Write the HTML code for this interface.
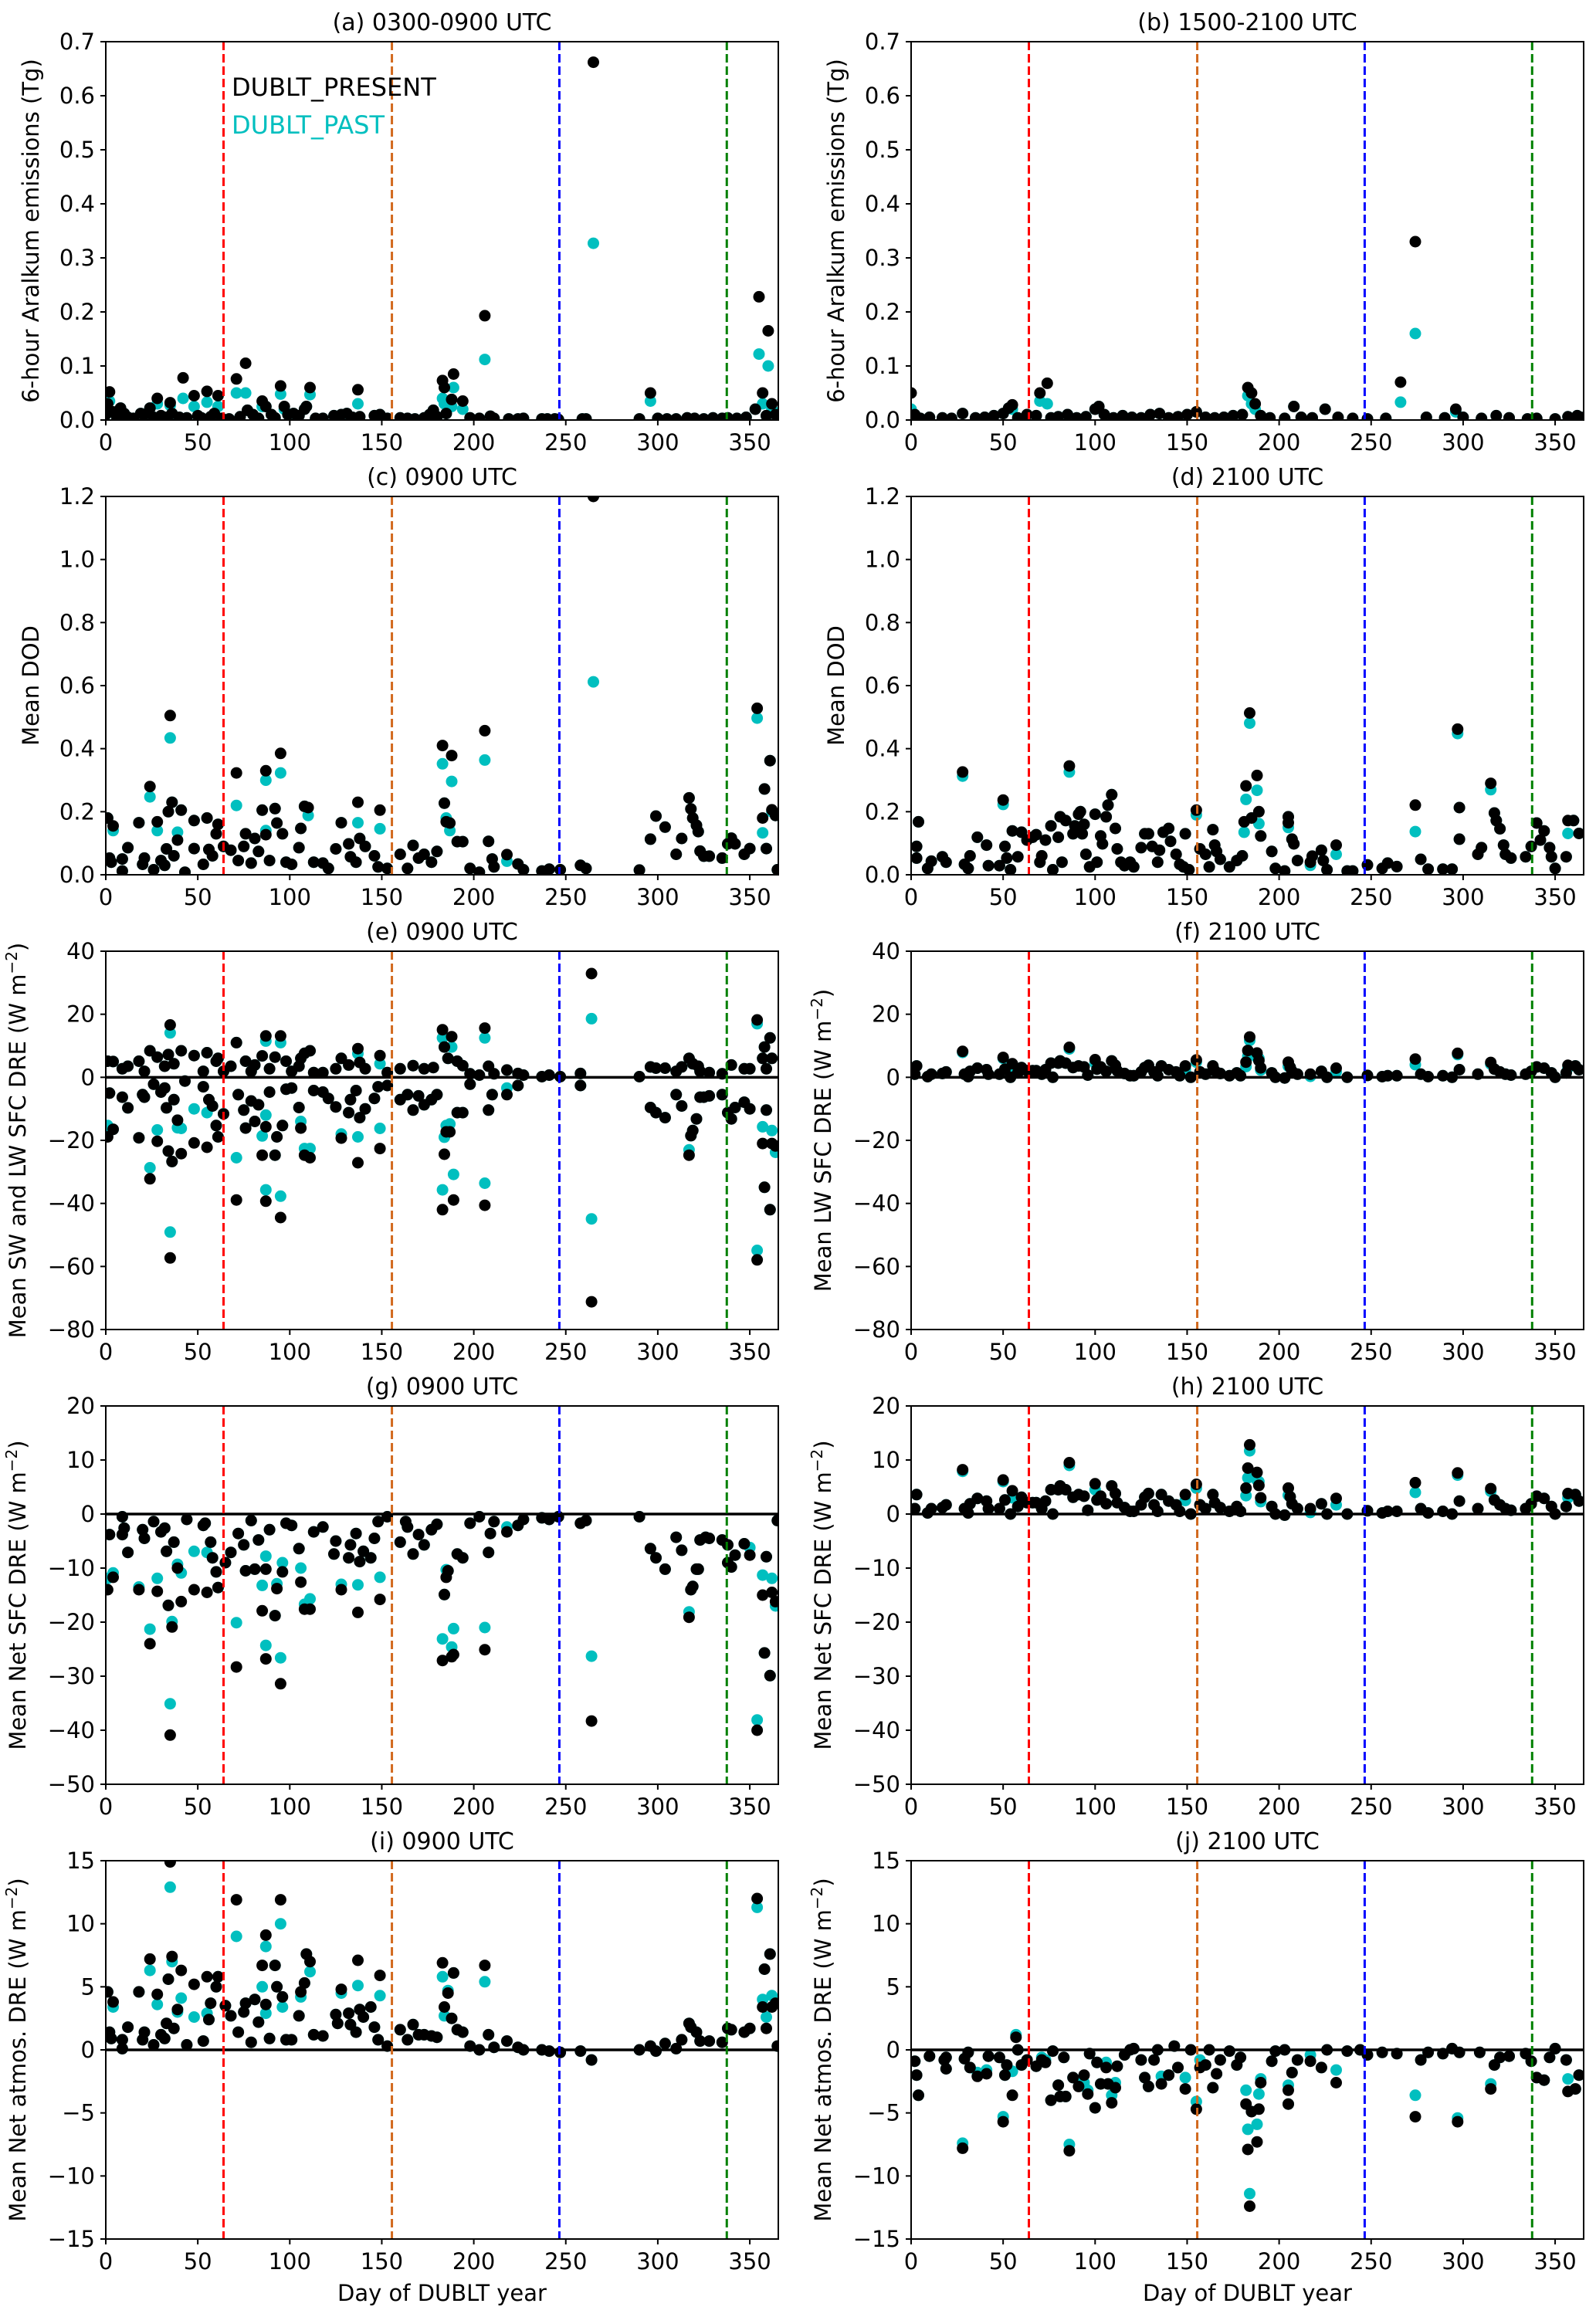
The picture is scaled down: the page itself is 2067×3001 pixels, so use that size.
<!DOCTYPE html>
<html><head><meta charset="utf-8"><title>DUBLT scatter panels</title>
<style>
html,body{margin:0;padding:0;background:#fff;}
svg{display:block;font-family:"DejaVu Sans","Liberation Sans",sans-serif;}
</style></head>
<body>
<svg id="fig" xmlns="http://www.w3.org/2000/svg" width="2067" height="3001" viewBox="0 0 2067 3001">
<rect x="0" y="0" width="2067" height="3001" fill="#fff"/>
</svg>
<script>
// ---------- shared axis data ----------
const xTicks = [0,50,100,150,200,250,300,350];
const seasonBounds = [64,155.5,246.5,337.5];
const seasonColors = ['#ff0000','#d2691e','#0000ff','#008000'];

// ---------- (a) emissions 0300-0900 ----------
const aDays = [0,1,2,4,6,8,10,12,15,19,21,24,26,28,30,33,35,36,40,42,44,48,50,52,55,57,59,61,63,67,71,73,76,77,80,83,85,87,90,92,95,97,99,102,105,108,109,111,114,118,124,128,131,134,137,138,146,149,153,160,164,168,173,176,178,180,183,184,185,188,189,194,198,203,206,209,211,219,224,227,237,240,244,246,259,261,265,290,296,300,305,310,316,320,325,330,335,338,343,348,353,355,357,359,360,362,364];
const aPresent = [0.01,0.03,0.052,0.015,0.005,0.022,0.012,0.005,0.003,0.012,
0.01,0.022,0.005,0.04,0.008,0.005,0.032,0.012,0.005,0.078,
0.004,0.045,0.008,0.004,0.053,0.006,0.012,0.045,0.003,0.002,
0.076,0.006,0.105,0.018,0.01,0.003,0.035,0.025,0.01,0.004,
0.063,0.025,0.01,0.012,0.008,0.02,0.025,0.06,0.003,0.003,
0.008,0.01,0.012,0.005,0.056,0.006,0.008,0.01,0.003,0.004,
0.003,0.002,0.004,0.01,0.018,0.006,0.073,0.06,0.012,0.038,
0.085,0.035,0.004,0.003,0.193,0.007,0.003,0.002,0.002,0.003,
0.002,0.002,0.002,0.001,0.002,0.002,0.662,0.002,0.05,0.003,
0.002,0.002,0.004,0.003,0.002,0.004,0.003,0.004,0.003,0.005,
0.02,0.228,0.05,0.008,0.165,0.03,0.01];
const aPast = [0.01,0.03,0.035,0.015,0.005,0.022,0.012,0.005,0.003,0.012,
0.01,0.022,0.005,0.03,0.008,0.005,0.027,0.012,0.005,0.04,
0.004,0.025,0.008,0.004,0.033,0.006,0.012,0.025,0.003,0.002,
0.05,0.006,0.05,0.018,0.01,0.003,0.025,0.025,0.01,0.004,
0.048,0.02,0.01,0.012,0.008,0.02,0.025,0.047,0.003,0.003,
0.008,0.01,0.012,0.005,0.03,0.006,0.008,0.01,0.003,0.004,
0.003,0.002,0.004,0.01,0.018,0.006,0.04,0.03,0.012,0.025,
0.06,0.02,0.004,0.003,0.112,0.007,0.003,0.002,0.002,0.003,
0.002,0.002,0.002,0.001,0.002,0.002,0.327,0.002,0.035,0.003,
0.002,0.002,0.004,0.003,0.002,0.004,0.003,0.004,0.003,0.005,
0.02,0.122,0.03,0.008,0.1,0.02,0.01];

// ---------- (b) emissions 1500-2100 ----------
const bDays = [0,2,5,10,17,22,28,35,40,45,50,53,55,58,63,68,70,74,76,80,85,90,95,100,102,105,110,115,120,125,130,135,140,145,150,155,160,165,170,175,180,183,185,187,190,195,203,208,212,218,225,232,240,248,258,266,274,280,290,296,300,310,318,325,335,340,350,357,362,364];
const bPresent = [0.05,0.01,0.003,0.005,0.004,0.003,0.012,0.004,0.005,0.008,
0.012,0.022,0.028,0.004,0.01,0.008,0.05,0.068,0.004,0.006,
0.01,0.004,0.006,0.02,0.025,0.01,0.004,0.008,0.005,0.004,
0.01,0.012,0.004,0.006,0.01,0.015,0.005,0.004,0.005,0.008,
0.01,0.06,0.05,0.03,0.008,0.004,0.003,0.025,0.005,0.004,
0.02,0.005,0.003,0.002,0.003,0.07,0.33,0.005,0.004,0.02,
0.005,0.003,0.008,0.004,0.002,0.003,0.002,0.006,0.008,0.005];
const bPast = [0.02,0.01,0.003,0.005,0.004,0.003,0.012,0.004,0.005,0.008,
0.012,0.022,0.02,0.004,0.01,0.008,0.035,0.03,0.004,0.006,
0.01,0.004,0.006,0.02,0.025,0.01,0.004,0.008,0.005,0.004,
0.01,0.012,0.004,0.006,0.01,0.015,0.005,0.004,0.005,0.008,
0.01,0.045,0.03,0.02,0.008,0.004,0.003,0.025,0.005,0.004,
0.02,0.005,0.003,0.002,0.003,0.033,0.16,0.005,0.004,0.015,
0.005,0.003,0.008,0.004,0.002,0.003,0.002,0.006,0.008,0.005];

// ---------- (c) DOD 0900 ----------
const cDays = [1,4,2,3,9,9,12,18,20,21,24,26,28,30,32,33,34,35,36,37,39,41,43,48,48,53,55,56,58,60,61,64,68,71,72,75,76,79,81,83,85,87,87,89,92,93,95,96,98,101,105,106,108,110,113,118,121,125,128,132,133,136,137,138,141,146,148,149,153,160,164,167,170,173,177,180,183,184,185,187,188,191,194,198,203,206,208,210,211,218,224,227,237,241,247,258,261,265,290,296,299,304,310,313,317,318,319,321,322,323,325,328,335,338,340,342,347,350,354,357,358,359,361,362,364,365];
const cPresent = [0.18,0.155,0.053,0.04,0.05,0.012,0.086,0.165,0.033,0.053,
0.28,0.016,0.168,0.045,0.03,0.082,0.2,0.505,0.23,0.06,
0.11,0.205,0.008,0.172,0.083,0.033,0.18,0.08,0.06,0.13,
0.16,0.09,0.078,0.323,0.045,0.09,0.13,0.037,0.115,0.074,
0.205,0.33,0.127,0.045,0.21,0.164,0.385,0.13,0.04,0.033,
0.086,0.147,0.217,0.213,0.04,0.037,0.02,0.082,0.165,0.098,
0.057,0.04,0.23,0.115,0.09,0.06,0.025,0.205,0.02,0.065,
0.02,0.093,0.053,0.065,0.04,0.074,0.41,0.227,0.168,0.164,
0.378,0.105,0.105,0.02,0.008,0.457,0.106,0.05,0.025,0.064,
0.034,0.016,0.012,0.018,0.016,0.03,0.02,1.2,0.015,0.113,
0.186,0.151,0.065,0.115,0.244,0.209,0.18,0.157,0.137,0.075,
0.059,0.059,0.053,0.098,0.116,0.098,0.065,0.083,0.528,0.18,
0.272,0.083,0.362,0.206,0.188,0.016];
const cPast = [0.18,0.14,0.053,0.04,0.05,0.012,0.086,0.165,0.033,0.053,
0.247,0.016,0.14,0.045,0.03,0.082,0.2,0.434,0.23,0.06,
0.135,0.205,0.008,0.172,0.083,0.033,0.18,0.08,0.06,0.13,
0.16,0.09,0.078,0.22,0.045,0.09,0.13,0.037,0.115,0.074,
0.205,0.3,0.14,0.045,0.21,0.164,0.323,0.13,0.04,0.033,
0.086,0.147,0.217,0.188,0.04,0.037,0.02,0.082,0.165,0.098,
0.057,0.04,0.165,0.115,0.09,0.06,0.025,0.146,0.02,0.065,
0.02,0.093,0.053,0.065,0.04,0.074,0.352,0.227,0.18,0.14,
0.296,0.105,0.105,0.02,0.008,0.364,0.106,0.05,0.025,0.043,
0.034,0.016,0.012,0.018,0.016,0.03,0.02,0.612,0.015,0.113,
0.186,0.151,0.065,0.115,0.244,0.209,0.18,0.157,0.137,0.075,
0.059,0.059,0.053,0.098,0.116,0.098,0.065,0.083,0.497,0.133,
0.272,0.083,0.362,0.2,0.188,0.016];

// ---------- (d) DOD 2100 ----------
const dDays = [3,3,4,9,11,17,19,28,29,31,
32,36,41,42,48,50,51,52,54,55,
58,60,63,66,68,70,71,73,76,77,
80,81,82,84,86,88,89,91,92,93,
94,95,97,100,101,103,104,106,107,109,
111,112,114,116,119,121,125,127,129,131,
134,135,137,140,141,144,146,148,149,151,
155,157,160,162,164,165,166,168,173,177,
180,182,181,184,185,188,189,190,196,198,
203,205,205,207,208,210,217,218,223,224,
226,231,237,240,248,256,259,264,274,277,
281,289,294,297,298,298,308,310,315,317,
318,320,322,323,326,334,337,340,342,344,
347,348,350,356,357,360,363];
const dPresent = [0.053,0.09,0.168,0.02,0.043,0.057,0.04,0.326,0.033,0.02,
0.06,0.119,0.094,0.029,0.029,0.237,0.09,0.053,0.016,0.139,
0.057,0.135,0.11,0.119,0.127,0.04,0.06,0.11,0.155,0.016,
0.119,0.184,0.04,0.172,0.345,0.13,0.155,0.192,0.2,0.13,
0.16,0.065,0.025,0.192,0.04,0.123,0.098,0.184,0.221,0.254,
0.147,0.082,0.04,0.029,0.04,0.025,0.086,0.13,0.13,0.09,
0.04,0.078,0.135,0.147,0.106,0.065,0.033,0.025,0.13,0.016,
0.205,0.082,0.065,0.025,0.143,0.094,0.074,0.049,0.025,0.045,
0.06,0.282,0.168,0.513,0.18,0.315,0.2,0.123,0.074,0.02,
0.012,0.184,0.165,0.113,0.098,0.045,0.04,0.059,0.078,0.045,
0.016,0.094,0.012,0.012,0.031,0.02,0.037,0.026,0.221,0.049,
0.018,0.018,0.018,0.462,0.113,0.213,0.065,0.086,0.29,0.196,
0.172,0.146,0.094,0.065,0.053,0.057,0.09,0.164,0.11,0.139,
0.086,0.057,0.02,0.057,0.172,0.172,0.131];
const dPast = [0.053,0.09,0.168,0.02,0.043,0.057,0.04,0.313,0.033,0.02,
0.06,0.119,0.094,0.029,0.029,0.223,0.09,0.053,0.016,0.139,
0.057,0.135,0.11,0.119,0.127,0.04,0.06,0.11,0.155,0.016,
0.119,0.184,0.04,0.172,0.326,0.13,0.155,0.192,0.2,0.13,
0.16,0.065,0.025,0.192,0.04,0.123,0.098,0.184,0.221,0.254,
0.147,0.082,0.04,0.029,0.04,0.025,0.086,0.13,0.13,0.09,
0.04,0.078,0.135,0.147,0.106,0.065,0.033,0.025,0.13,0.016,
0.19,0.082,0.065,0.025,0.143,0.094,0.074,0.049,0.025,0.045,
0.06,0.239,0.135,0.481,0.18,0.268,0.162,0.123,0.074,0.02,
0.012,0.184,0.15,0.113,0.098,0.045,0.03,0.059,0.078,0.045,
0.016,0.065,0.012,0.012,0.031,0.02,0.037,0.026,0.137,0.049,
0.018,0.018,0.018,0.448,0.113,0.213,0.065,0.086,0.27,0.196,
0.172,0.146,0.094,0.065,0.053,0.057,0.09,0.164,0.11,0.139,
0.086,0.057,0.02,0.057,0.131,0.172,0.131];

// ---------- (e) SW and LW SFC DRE 0900 ----------
const eDays = [1,4,9,12,18,21,24,28,32,34,
35,37,41,43,48,55,53,60,61,64,
71,68,76,79,81,85,87,89,92,95,
98,101,105,106,108,111,113,118,125,128,
132,137,138,141,149,153,160,167,173,178,
183,184,186,188,191,194,198,203,206,208,
211,218,224,227,237,241,247,258,264,290,
296,299,304,310,313,317,319,322,323,328,
335,340,347,350,354,358,359,361,357,362,
1,4,2,9,12,18,20,21,24,26,
28,30,32,33,34,35,36,37,39,41,
48,53,55,56,58,60,61,64,71,72,
75,76,79,81,83,85,87,87,89,92,
93,95,96,98,101,105,106,108,111,113,
118,121,125,128,132,133,136,137,138,141,
146,149,148,153,160,164,167,170,173,177,
180,183,184,185,187,189,191,194,198,208,
206,210,218,224,258,264,296,299,304,310,
313,317,318,319,321,323,325,328,335,338,
340,342,347,350,354,358,359,357,361,362,
364];
const ePresent = [5.1,5,2.7,3.5,5.1,1.9,8.4,6.4,3.5,7.2,
16.6,4.3,8.4,-1.2,6.9,7.8,1.9,5.1,6,1.9,
11,3.5,5.1,1.9,3.9,6.8,13.1,2.7,6.4,13.1,
5.1,1.9,3.5,6,7.6,8.4,1.5,1.5,2.7,6,
3.9,9.1,4.7,2.7,6.9,1.5,2.7,3.7,2.7,3.1,
15.1,9.6,6,12.9,5.1,3.7,1.1,0.7,15.6,3.5,
1.1,2.3,1.2,0.7,0.2,0.7,0.2,1.2,32.9,0.2,
3.3,2.9,2.9,1.9,3.3,6,4.3,3.5,1.9,1.5,
1.1,3.9,2.7,2.7,18.2,9.6,2.7,12.5,6,6,
-18.9,-16.5,-5,-6.3,-9.7,-19.2,-5.5,-6.3,-32.2,-2.2,
-20.3,-4.7,-3.4,-9.7,-23.4,-57.3,-26.7,-7.1,-13.6,-24.2,
-20.8,-3,-22.2,-7.1,-9.1,-15.3,-18.9,-11.6,-38.9,-5.5,
-10.4,-16.1,-7.5,-14,-8.7,-24.7,-39.3,-15.7,-4.7,-24.7,
-18.9,-44.5,-15.3,-3.8,-3.4,-9.6,-16.1,-24.7,-25.5,-4.2,
-4.7,-6.7,-9.4,-19.3,-11.2,-7.1,-4.2,-27.1,-12.8,-10,
-6.7,-22.6,-3,-2.6,-7.1,-5.5,-10.4,-5.9,-8.7,-7.1,
-5.5,-42,-24.4,-17.3,-17.3,-38.9,-11.2,-11.2,-2.2,-10.4,
-40.6,-5.5,-5.5,-2.6,-2.6,-71.2,-9.6,-11.2,-12.8,-5.5,
-9.1,-24.7,-18.5,-16.9,-13.2,-6.3,-6.3,-5.9,-5.5,-11.2,
-13.2,-9.6,-7.9,-10,-57.9,-34.9,-10.4,-21,-42,-21,
-21.8];
const ePast = [5.1,5,2.7,3.5,5.1,1.9,8.4,6.4,3.5,7.2,
14.1,4.3,8.4,-1.2,6.9,7.8,1.9,5.1,6,1.9,
11,3.5,5.1,1.9,3.9,6.8,11.5,2.7,6.4,11,
5.1,1.9,3.5,6,7.6,8.4,1.5,1.5,2.7,6,
3.9,7.5,4.7,2.7,4.3,1.5,2.7,3.7,2.7,3.1,
12.5,9.6,6,9.6,5.1,3.7,1.1,0.7,12.5,3.5,
1.1,2.3,1.2,0.7,0.2,0.7,0.2,1.2,18.6,0.2,
3.3,2.9,2.9,1.9,3.3,6,4.3,3.5,1.9,1.5,
1.1,3.9,2.7,2.7,17,9.6,2.7,12.5,6,6,
-15.3,-16.5,-5,-6.3,-9.7,-19.2,-5.5,-6.3,-28.7,-2.2,
-16.7,-4.7,-3.4,-9.7,-23.4,-49.1,-26.7,-7.1,-16,-16.2,
-10,-3,-11.2,-7.1,-9.1,-15.3,-18.9,-11.6,-25.5,-5.5,
-10.4,-16.1,-7.5,-14,-8.7,-18.6,-35.7,-12,-4.7,-24.7,
-18.9,-37.7,-15.3,-3.8,-3.4,-9.6,-14,-22.6,-22.6,-4.2,
-4.7,-6.7,-9.4,-18,-11.2,-7.1,-4.2,-18.9,-12.8,-10,
-6.7,-16.2,-3,-2.6,-7.1,-5.5,-10.4,-5.9,-8.7,-7.1,
-5.5,-35.7,-19,-15.3,-14.8,-30.8,-11.2,-11.2,-2.2,-10.4,
-33.6,-5.5,-3.4,-2.6,-2.6,-44.9,-9.6,-11.2,-12.8,-5.5,
-9.1,-23,-18.5,-16.9,-13.2,-6.3,-6.3,-5.9,-5.5,-11.2,
-13.2,-9.6,-7.9,-10,-54.9,-34.9,-10.4,-15.7,-42,-16.9,
-23.8];

// ---------- (g) Net SFC DRE 0900 ----------
const gDays = [1,4,2,9,9,10,12,18,20,21,
24,26,28,30,32,33,34,35,36,37,
39,41,44,48,53,55,54,57,58,60,
61,65,68,71,72,75,76,79,81,83,
85,87,87,89,92,93,95,96,98,101,
105,106,108,111,113,118,125,124,128,132,
133,136,137,138,140,144,146,149,148,153,
160,163,164,167,170,173,177,180,183,184,
185,186,188,189,191,194,198,203,206,208,
209,211,218,224,227,237,241,246,258,261,
264,290,296,299,304,310,313,317,318,319,
321,322,323,326,328,335,338,338,340,342,
347,350,354,358,359,357,361,362,364,365];
const gPresent = [-14,-11.7,-3.8,-0.5,-3.8,-2.6,-7.1,-14,-2.9,-4.5,
-24,-1.4,-14.3,-3.3,-2.6,-6.9,-16.9,-40.9,-20.9,-5.2,
-10,-16.2,-1,-14,-2.1,-14.5,-1.7,-5.2,-8.1,-10.7,
-13.6,-9,-7.1,-28.3,-3.6,-5.7,-10.5,-1.2,-10.2,-4.8,
-17.9,-26.8,-10.2,-2.9,-18.8,-13.8,-31.4,-10.7,-1.7,-2.1,
-6.4,-12.6,-17.6,-17.6,-3.3,-2.4,-5,-7.4,-14,-8.1,
-5.7,-3.6,-18.2,-8.8,-6.9,-8.1,-4.5,-15.8,-1.4,-0.5,
-5.2,-1.4,-2.4,-7.4,-3.8,-5.7,-2.9,-1.9,-27.1,-14.9,
-11.7,-10.5,-26.4,-26,-7.4,-8.1,-1.7,-0.5,-25.1,-7.1,
-3.6,-1.4,-3.3,-2.1,-1,-0.7,-1,-0.5,-1.7,-1.2,
-38.3,-0.5,-6.4,-8.1,-10.2,-4.3,-6.7,-19.1,-14,-13.4,
-10.2,-10.2,-4.8,-4.3,-4.5,-4.8,-5.7,-9,-9.8,-7.6,
-5.5,-7.6,-40,-25.7,-7.9,-15,-29.9,-14.5,-16.2,-1.2];
const gPast = [-11.9,-10.9,-3.8,-0.5,-3.8,-2.6,-7.1,-13.5,-2.9,-4.5,
-21.3,-1.4,-11.9,-3.3,-2.6,-6.9,-16.9,-35.1,-19.9,-5.2,
-9.3,-10.9,-1,-6.9,-2.1,-7.1,-1.7,-5.2,-8.1,-10.7,
-13.6,-9,-7.1,-20.1,-3.6,-5.7,-10.5,-1.2,-10.2,-4.8,
-13.2,-24.3,-7.8,-2.9,-18.8,-12.9,-26.6,-9,-1.7,-2.1,
-6.4,-10,-16.7,-15.7,-3.3,-2.4,-5,-7.4,-13,-8.1,
-5.7,-3.6,-13.1,-8.8,-6.9,-8.1,-4.5,-11.7,-1.4,-0.5,
-5.2,-1.4,-2.4,-7.4,-3.8,-5.7,-2.9,-1.9,-23.1,-14.9,
-10.3,-10.5,-24.6,-21.2,-7.4,-8.1,-1.7,-0.5,-21,-7.1,
-3.6,-1.4,-2.4,-2.1,-1,-0.7,-1,-0.5,-1.7,-1.2,
-26.3,-0.5,-6.4,-8.1,-10.2,-4.3,-6.7,-18.1,-14,-13.4,
-10.2,-10.2,-4.8,-4.3,-4.5,-4.8,-5.7,-9,-9.8,-7.6,
-5.5,-6.2,-38.1,-25.7,-7.9,-11.3,-29.9,-11.9,-17,-1.2];

// ---------- (i) Net atmos DRE 0900 ----------
const iDays = [1,4,2,3,9,9,12,18,20,21,
24,26,28,30,32,33,34,35,36,37,
39,41,44,48,53,55,56,57,60,61,
65,68,71,72,75,76,79,81,83,85,
87,87,89,92,93,95,96,98,101,105,
106,108,109,111,113,118,125,126,128,132,
133,136,137,138,140,144,146,149,148,153,
160,164,167,170,173,177,180,183,184,186,
189,188,191,194,198,203,206,208,211,218,
224,227,237,241,247,258,264,290,296,299,
304,310,313,317,318,321,323,328,335,338,
340,347,350,354,358,359,357,361,362,364,365];
const iPresent = [4.6,3.8,1.4,0.9,0.1,0.8,1.8,4.6,0.8,1.4,
7.2,0.4,4.4,1.2,0.9,2.1,5.6,14.9,7.4,1.7,
3.2,6.3,0.4,5.2,0.7,5.8,2.4,3.7,5,5.8,
3.5,2.7,11.9,1.4,3,3.7,0.6,4,2.2,6.7,
9.1,3.6,0.9,6.7,5,11.9,4.2,0.8,0.8,2.7,
4.6,5.3,7.6,7,1.2,1.1,2.8,2.1,4.8,2.9,
2,1.4,7.1,3.2,2.6,3.4,1.8,5.9,0.8,0.3,
1.6,0.8,2,1.2,1.2,1.1,1,6.9,3.4,4.5,
6.1,2.5,1.6,1.4,0.3,0,6.7,1.2,0.2,0.7,
0.2,0,0,-0.1,-0.2,-0.1,-0.8,0,0.3,-0.1,
0.5,0.1,0.8,2.1,1.8,1.4,0.7,0.7,0.6,1.7,
1.6,1.4,1.7,12,6.4,1.7,3.4,7.6,3.4,3.7,0.3];
const iPast = [4.6,3.4,1.4,0.9,0.1,0.8,1.8,4.6,0.8,1.4,
6.3,0.4,3.6,1.2,0.9,2.1,5.6,12.9,7,1.7,
3,4.1,0.4,2.6,0.7,2.9,2.4,3.7,5,5.8,
3.5,2.7,9,1.4,3,3.7,0.6,4,2.2,5,
8.2,2.9,0.9,6.7,5,10,3.4,0.8,0.8,2.7,
4.2,5.3,7.6,6.2,1.2,1.1,2.8,2.1,4.5,2.9,
2,1.4,5.1,3.2,2.6,3.4,1.8,4.3,0.8,0.3,
1.6,0.8,2,1.2,1.2,1.1,1,5.8,2.7,4.7,
6.1,2.5,1.6,1.4,0.3,0,5.4,1.2,0.2,0.7,
0.2,0,0,-0.1,-0.2,-0.1,-0.8,0,0.3,-0.1,
0.5,0.1,0.8,2.1,1.8,1.4,0.7,0.7,0.6,1.7,
1.6,1.4,1.7,11.3,6.4,2.6,4,7.6,4.3,3.7,0.3];

// ---------- (f)/(h) LW = Net SFC DRE 2100 (no SW at night) ----------
const hDays = [3,2,9,11,17,19,28,29,31,32,
36,41,42,48,50,51,54,55,58,60,
63,66,68,71,73,76,77,80,81,84,
86,88,91,94,96,100,101,103,106,109,
111,112,116,119,121,125,127,129,132,134,
136,140,144,146,149,152,155,157,160,164,
165,168,173,177,179,182,183,184,188,189,
190,196,198,203,205,206,207,210,217,223,
226,231,237,248,256,259,264,274,277,281,
289,294,297,298,308,315,317,320,323,326,
334,337,340,344,348,350,356,357,361,363];
const hPresent = [3.6,1,0.2,1,1.2,1.7,8.2,1,0.2,1.9,
2.9,2.4,1,1,6.3,2.6,0,4.3,1.4,3.1,
2.1,2.1,2.1,1,2.4,4.5,0,4.5,5.2,4.5,
9.5,3.1,3.6,3.3,0.7,5.6,2.6,3.3,1.9,5.2,
3.8,2.1,1.2,0.5,0.5,1.7,3.1,3.8,1.7,0.5,
3.6,2.4,1.7,0.5,3.6,0,5.5,1.7,1,3.6,
2.1,1.2,0.5,1.4,0.5,4.8,8.5,12.8,7.7,5.3,
3,1.4,0,-0.2,4.8,3.2,1.9,1,1,1.9,
0,2.9,0,0.6,0.2,0.5,0.5,5.8,1,0.2,
0.5,0,7.6,2.4,1,4.7,2.6,1.7,1,0.7,
1,1.9,3.3,2.9,1.4,0,1.4,3.8,3.6,2.4];
const hPast = [3.6,1,0.2,1,1.2,1.7,7.9,1,0.2,1.9,
2.9,2.4,1,1,6,2.6,0,3,1.4,3.1,
2.1,2.1,2.1,1,2.4,4.5,0,4.5,5.2,4.5,
9,3.1,3.6,3.3,0.7,4.5,2.6,3.3,1.9,5.2,
3.8,2.1,1.2,0.5,0.5,1.7,3.1,3.8,1.7,0.5,
3.6,2.4,1.7,0.5,2.5,0,4.8,1.7,1,3.6,
2.1,1.2,0.5,1.4,0.5,3.4,6.7,11.7,6.3,6,
2.3,1.4,0,-0.2,3.5,3.2,1.9,1,0.3,1.9,
0,1.7,0,0.6,0.2,0.5,0.5,4,1,0.2,
0.5,0,7.2,2.4,1,4.2,2.6,1.7,1,0.7,
1,1.9,3.3,2.9,1.4,0,1.4,3,3.6,2.4];

// ---------- (j) Net atmos DRE 2100 ----------
const jDays = [2,3,4,10,18,19,19,28,29,31,
32,36,41,42,48,50,51,52,55,57,
58,60,63,68,71,73,76,77,80,81,
83,84,86,88,91,94,96,97,100,101,
103,106,107,109,111,112,116,119,121,125,
127,129,132,134,136,140,143,145,149,152,
155,157,160,162,164,166,168,173,177,179,
182,183,184,185,188,189,190,196,198,203,
205,205,207,210,217,223,226,231,237,244,
248,256,264,274,277,281,289,294,297,298,
309,315,317,320,325,334,337,340,344,347,
350,356,357,361,363];
const jPresent = [-0.9,-2,-3.6,-0.5,-0.8,-0.6,-1.5,-7.8,-0.7,-0.2,
-1.4,-2.1,-1.9,-0.5,-0.6,-5.7,-2,-1.2,-3.6,1,
0,-1.2,-0.8,-1.3,-0.8,-1,-4,-0.1,-2.8,-3.7,
-0.6,-3.7,-8,-2.2,-2.9,-2,-3.5,-0.3,-4.6,-1,
-2.7,-1.4,-2.7,-4.2,-3,-1.3,-0.4,0,0.1,-0.8,
-2.2,-2.9,-0.8,0,-2.7,-2,0.3,-1.4,-3.1,0,
-4.7,-1.4,-1.2,0,-3,-1.9,-0.8,-0.1,-1.2,-0.6,
-4.3,-7.9,-12.4,-4.9,-7.3,-4.7,-2.6,-0.9,-0.1,0,
-4.3,-3.2,-1.8,-0.8,-0.9,-1.4,0,-2.6,-0.1,0,
-0.4,-0.2,-0.3,-5.3,-0.8,-0.2,-0.3,0.1,-5.7,-0.2,
-0.2,-3.1,-1.2,-0.6,-0.5,-0.3,-0.9,-2.2,-2.4,-0.6,
0.1,-0.8,-3.3,-3.1,-2];
const jPast = [-0.9,-2,-3.6,-0.5,-0.8,-0.6,-1.5,-7.4,-0.7,-0.2,
-1.4,-1.8,-1.6,-0.5,-0.6,-5.3,-2,-1.2,-1.7,1.2,
0,-1.2,-0.8,-1.3,-0.6,-0.8,-4,-0.1,-2.8,-3.7,
-0.6,-3.7,-7.5,-2.2,-2.4,-2.6,-3.2,-0.3,-4.6,-1,
-2.7,-1,-2.7,-3.6,-2.6,-1.3,-0.4,0,0.1,-0.8,
-2.2,-2.9,-0.8,0,-2.1,-2,0.3,-1.4,-2.2,0,
-4.1,-0.8,-1.2,0,-3,-1.9,-0.8,-0.1,-1.2,-0.6,
-3.2,-6.3,-11.4,-4.9,-5.9,-3.5,-2.3,-0.9,-0.1,0,
-4.3,-2.8,-1.8,-0.8,-0.4,-1.4,0,-1.6,-0.1,0,
-0.4,-0.2,-0.3,-3.6,-0.8,-0.2,-0.3,0.1,-5.4,-0.2,
-0.2,-2.7,-1.2,-0.6,-0.5,-0.3,-0.9,-2.2,-2.4,-0.6,
0.1,-0.8,-2.3,-3.1,-2];

// ---------- y ticks ----------
const yTicksEmis = [0,0.1,0.2,0.3,0.4,0.5,0.6,0.7];
const yTicksDOD = [0,0.2,0.4,0.6,0.8,1.0,1.2];
const yTicksSWLW = [-80,-60,-40,-20,0,20,40];
const yTicksNet = [-50,-40,-30,-20,-10,0,10,20];
const yTicksAtm = [-15,-10,-5,0,5,10,15];

// ---------- layout ----------
const NS = 'http://www.w3.org/2000/svg';
const svg = document.getElementById('fig');
const colX = [[137,1008],[1180,2051]];
const rowTop = [54,643,1232,1821,2410];
const axH = 490;
const XMAX = 365.5;
const R = 7.5;
const CYAN = '#00bfbf';

const panels = [
 {key:'a', col:0,row:0, title:'(a) 0300-0900 UTC', ylabel:['6-hour Aralkum emissions (Tg)'], ymin:0,ymax:0.7, ticks:yTicksEmis, dec:1, zero:false, days:aDays, pres:aPresent, past:aPast, legend:true},
 {key:'b', col:1,row:0, title:'(b) 1500-2100 UTC', ylabel:['6-hour Aralkum emissions (Tg)'], ymin:0,ymax:0.7, ticks:yTicksEmis, dec:1, zero:false, days:bDays, pres:bPresent, past:bPast},
 {key:'c', col:0,row:1, title:'(c) 0900 UTC', ylabel:['Mean DOD'], ymin:0,ymax:1.2, ticks:yTicksDOD, dec:1, zero:false, days:cDays, pres:cPresent, past:cPast},
 {key:'d', col:1,row:1, title:'(d) 2100 UTC', ylabel:['Mean DOD'], ymin:0,ymax:1.2, ticks:yTicksDOD, dec:1, zero:false, days:dDays, pres:dPresent, past:dPast},
 {key:'e', col:0,row:2, title:'(e) 0900 UTC', ylabel:['Mean SW and LW SFC DRE (W m','−2',')'], ymin:-80,ymax:40, ticks:yTicksSWLW, dec:0, zero:true, days:eDays, pres:ePresent, past:ePast},
 {key:'f', col:1,row:2, title:'(f) 2100 UTC', ylabel:['Mean LW SFC DRE (W m','−2',')'], ymin:-80,ymax:40, ticks:yTicksSWLW, dec:0, zero:true, days:hDays, pres:hPresent, past:hPast},
 {key:'g', col:0,row:3, title:'(g) 0900 UTC', ylabel:['Mean Net SFC DRE (W m','−2',')'], ymin:-50,ymax:20, ticks:yTicksNet, dec:0, zero:true, days:gDays, pres:gPresent, past:gPast},
 {key:'h', col:1,row:3, title:'(h) 2100 UTC', ylabel:['Mean Net SFC DRE (W m','−2',')'], ymin:-50,ymax:20, ticks:yTicksNet, dec:0, zero:true, days:hDays, pres:hPresent, past:hPast},
 {key:'i', col:0,row:4, title:'(i) 0900 UTC', ylabel:['Mean Net atmos. DRE (W m','−2',')'], ymin:-15,ymax:15, ticks:yTicksAtm, dec:0, zero:true, days:iDays, pres:iPresent, past:iPast, xlabel:true},
 {key:'j', col:1,row:4, title:'(j) 2100 UTC', ylabel:['Mean Net atmos. DRE (W m','−2',')'], ymin:-15,ymax:15, ticks:yTicksAtm, dec:0, zero:true, days:jDays, pres:jPresent, past:jPast, xlabel:true}
];

function mk(tag, parent){ const e=document.createElementNS(NS,tag); parent.appendChild(e); return e; }
function fmt(v,dec){ const s = dec ? v.toFixed(dec) : String(Math.round(v)); return s.replace('-', '−'); }

const defs = mk('defs', svg);

panels.forEach(p => {
  const x0 = colX[p.col][0], x1 = colX[p.col][1];
  const y0 = rowTop[p.row], y1 = y0 + axH;
  const xs = d => x0 + (d/XMAX)*(x1-x0);
  const ys = v => y1 - (v-p.ymin)/(p.ymax-p.ymin)*(y1-y0);

  const g = mk('g', svg);
  
  

  const cp = mk('clipPath', defs);
  cp.setAttribute('id', 'clip-' + p.key);
  const cr = mk('rect', cp);
  cr.setAttribute('x', x0); cr.setAttribute('y', y0);
  cr.setAttribute('width', x1-x0); cr.setAttribute('height', y1-y0);

  const plot = mk('g', g);
  plot.setAttribute('clip-path', 'url(#clip-' + p.key + ')');
  
  

  // past points (cyan) underneath
  const n = Math.min(p.days.length, p.pres.length, p.past.length);
  for (let i=0;i<n;i++){
    const c = mk('circle', plot);
    c.setAttribute('cx', xs(p.days[i]).toFixed(1));
    c.setAttribute('cy', ys(p.past[i]).toFixed(1));
    c.setAttribute('r', R);
    c.setAttribute('fill', CYAN);
    
    
  }
  for (let i=0;i<n;i++){
    const c = mk('circle', plot);
    c.setAttribute('cx', xs(p.days[i]).toFixed(1));
    c.setAttribute('cy', ys(p.pres[i]).toFixed(1));
    c.setAttribute('r', R);
    c.setAttribute('fill', '#000');
    
    
  }
  // zero line
  if (p.zero){
    const zl = mk('line', plot);
    zl.setAttribute('x1', x0); zl.setAttribute('x2', x1);
    zl.setAttribute('y1', ys(0)); zl.setAttribute('y2', ys(0));
    zl.setAttribute('stroke', '#000'); zl.setAttribute('stroke-width', 3.5);
    
    
  }
  // season boundary lines
  seasonBounds.forEach((d,k) => {
    const l = mk('line', plot);
    l.setAttribute('x1', xs(d)); l.setAttribute('x2', xs(d));
    l.setAttribute('y1', y0); l.setAttribute('y2', y1);
    l.setAttribute('stroke', seasonColors[k]); l.setAttribute('stroke-width', 3);
    l.setAttribute('stroke-dasharray', '11,5');
    
    
  });
  // frame
  const fr = mk('rect', g);
  fr.setAttribute('x', x0); fr.setAttribute('y', y0);
  fr.setAttribute('width', x1-x0); fr.setAttribute('height', y1-y0);
  fr.setAttribute('fill', 'none'); fr.setAttribute('stroke', '#000'); fr.setAttribute('stroke-width', 2);
  
  

  // x ticks
  xTicks.forEach(t => {
    const tx = xs(t);
    const tl = mk('line', g);
    tl.setAttribute('x1', tx); tl.setAttribute('x2', tx);
    tl.setAttribute('y1', y1); tl.setAttribute('y2', y1+7);
    tl.setAttribute('stroke', '#000'); tl.setAttribute('stroke-width', 2);
    
    
    const lb = mk('text', g);
    lb.setAttribute('x', tx); lb.setAttribute('y', y1+39);
    lb.setAttribute('text-anchor', 'middle'); lb.setAttribute('font-size', 29);
    lb.textContent = String(t);
    
    
  });
  // y ticks
  p.ticks.forEach(t => {
    const ty = ys(t);
    const tl = mk('line', g);
    tl.setAttribute('x1', x0-7); tl.setAttribute('x2', x0);
    tl.setAttribute('y1', ty); tl.setAttribute('y2', ty);
    tl.setAttribute('stroke', '#000'); tl.setAttribute('stroke-width', 2);
    
    
    const lb = mk('text', g);
    lb.setAttribute('x', x0-14); lb.setAttribute('y', ty+10);
    lb.setAttribute('text-anchor', 'end'); lb.setAttribute('font-size', 29);
    lb.textContent = fmt(t, p.dec);
    
    
  });
  // title
  const tt = mk('text', g);
  tt.setAttribute('x', (x0+x1)/2); tt.setAttribute('y', y0-15);
  tt.setAttribute('text-anchor', 'middle'); tt.setAttribute('font-size', 30);
  tt.textContent = p.title;
  
  
  // y label
  const lx = x0 - (p.dec ? 87 : 104);
  const yl = mk('text', g);
  yl.setAttribute('transform', 'translate(' + lx + ',' + ((y0+y1)/2) + ') rotate(-90)');
  yl.setAttribute('text-anchor', 'middle'); yl.setAttribute('font-size', 29);
  const s1 = mk('tspan', yl); s1.textContent = p.ylabel[0];
  if (p.ylabel.length > 1){
    const s2 = mk('tspan', yl); s2.setAttribute('dy', -11); s2.setAttribute('font-size', 20); s2.textContent = p.ylabel[1];
    const s3 = mk('tspan', yl); s3.setAttribute('dy', 11); s3.textContent = p.ylabel[2];
  }
  
  
  // x label
  if (p.xlabel){
    const xl = mk('text', g);
    xl.setAttribute('x', (x0+x1)/2); xl.setAttribute('y', y1+80);
    xl.setAttribute('text-anchor', 'middle'); xl.setAttribute('font-size', 29);
    xl.textContent = 'Day of DUBLT year';
    
    
  }
  // legend
  if (p.legend){
    const l1 = mk('text', g);
    l1.setAttribute('x', 300); l1.setAttribute('y', 124);
    l1.setAttribute('font-size', 32); l1.setAttribute('fill', '#000');
    l1.textContent = 'DUBLT_PRESENT';
    
    
    const l2 = mk('text', g);
    l2.setAttribute('x', 300); l2.setAttribute('y', 173);
    l2.setAttribute('font-size', 32); l2.setAttribute('fill', CYAN);
    l2.textContent = 'DUBLT_PAST';
    
    
  }
});
</script>
</body></html>
